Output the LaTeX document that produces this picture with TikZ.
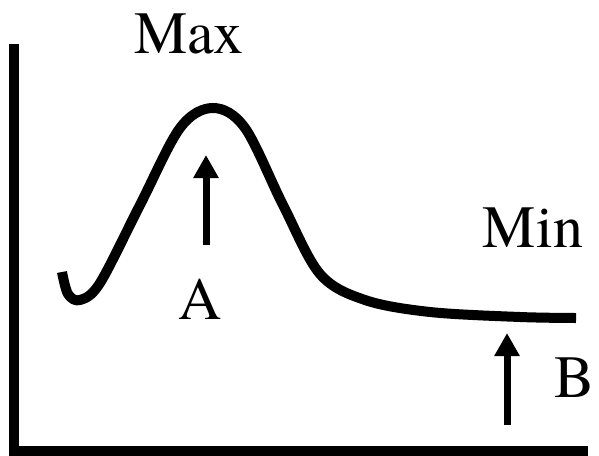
\documentclass[tikz,border=0pt]{standalone}
\usepackage{fontspec}
\newfontfamily\lblfont{texgyretermes-regular.otf}
\usepackage{tikz}
\usetikzlibrary{arrows.meta,positioning}
\tikzset{
    curveline/.style={line width=10pt, line cap=butt, line join=round},
    uparrow/.style={line width=7pt, -{Triangle[width=24pt,length=23pt]}},
    lbl/.style={inner sep=0pt, anchor=base, font=\lblfont\fontsize{60}{66}\selectfont}
}

\begin{document}
\begin{tikzpicture}[x=1pt, y=-1pt]
        \useasboundingbox (0,0) rectangle (599,455);

        % axes
        \draw[line width=10pt, line join=miter] (14,44) -- (14,451) -- (588,451);

        % energy curve
        \draw[curveline] plot[smooth, tension=0.55] coordinates {
            (62,272) (68,294) (80,300) (100,283) (140,205) (180,128) (213,108)
            (245,128) (283,205) (320,274) (365,300) (430,312)
            (520,317) (576,318)};

        \coordinate (Atail) at (206,245);
        \coordinate (Atip) at (206,155);
        \coordinate (Btail) at (507,425);
        \coordinate (Btip) at (507,333);

        \draw[uparrow] (Atail) -- (Atip);
        \draw[uparrow] (Btail) -- (Btip);

        \node[lbl] (max) at (189,53) {Max};
        \node[lbl] (labA) at (200,319) {A};
        \node[lbl] (min) at (533,247) {Min};
        \node[lbl] (labB) at (575,397) {B};
    \end{tikzpicture}
\end{document}
